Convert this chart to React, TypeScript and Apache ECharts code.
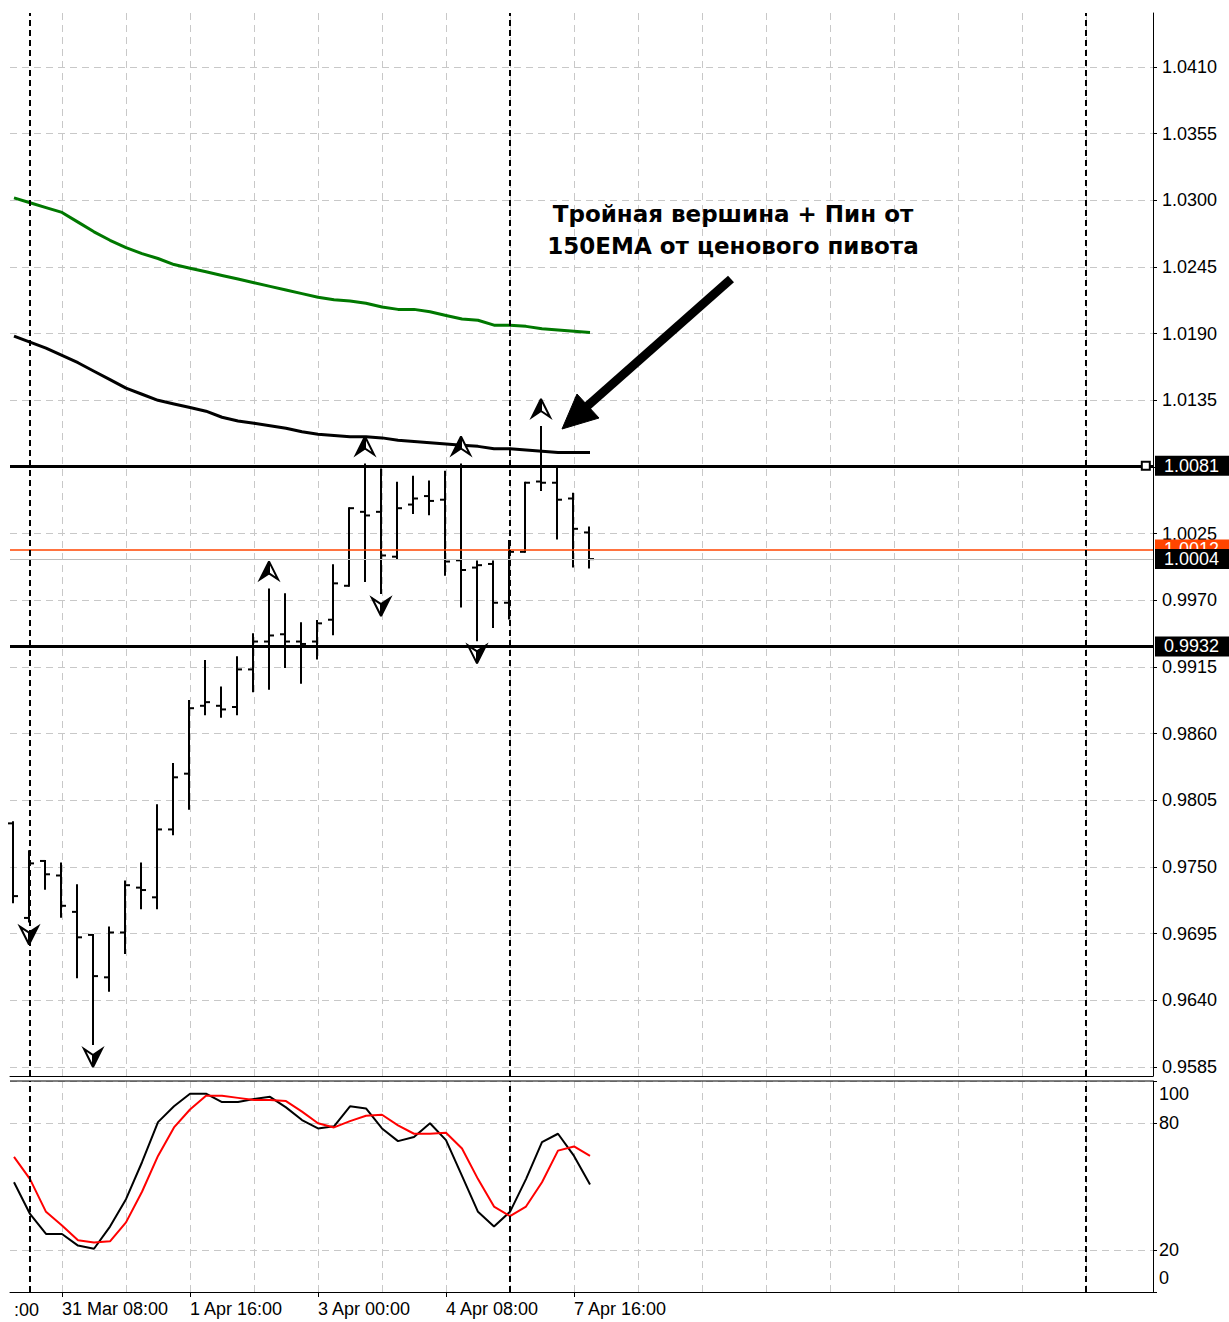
import React, { useEffect, useRef } from "react";
import * as echarts from "echarts";

// ---- data (H4 bars, index 0..36) ----
const opens = [0.9786, 0.9708, 0.9755, 0.9743, 0.9713, 0.9694, 0.9659, 0.9696, 0.9733, 0.9725, 0.9781, 0.9827, 0.9883, 0.9883, 0.9882, 0.9913, 0.9936, 0.9942, 0.9936, 0.9936, 0.9954, 0.9982, 1.0043, 1.0043, 1.0006, 1.0049, 1.0056, 1.0053, 1.0003, 0.9997, 1.0000, 0.9968, 1.0010, 1.0068, 1.0067, 1.0054, 1.0026];
const highs = [0.9787, 0.9763, 0.9755, 0.9753, 0.9735, 0.9694, 0.9700, 0.9738, 0.9753, 0.9801, 0.9835, 0.9887, 0.9920, 0.9898, 0.9923, 0.9942, 0.9979, 0.9975, 0.9951, 0.9953, 0.9999, 1.0046, 1.0082, 1.0078, 1.0067, 1.0072, 1.0068, 1.0076, 1.0082, 1.0002, 1.0002, 1.0019, 1.0067, 1.0113, 1.0080, 1.0058, 1.0030];
const lows = [0.9721, 0.9705, 0.9732, 0.9709, 0.9659, 0.9604, 0.9648, 0.9679, 0.9716, 0.9716, 0.9777, 0.9798, 0.9876, 0.9874, 0.9876, 0.9895, 0.9897, 0.9915, 0.9902, 0.9922, 0.9942, 0.9982, 0.9986, 0.9976, 1.0005, 1.0042, 1.0041, 0.9991, 0.9965, 0.9937, 0.9948, 0.9955, 1.0010, 1.0061, 1.0021, 0.9998, 0.9997];
const closes = [0.9726, 0.9753, 0.9744, 0.9718, 0.9692, 0.9660, 0.9696, 0.9735, 0.9731, 0.9781, 0.9824, 0.9881, 0.9886, 0.9880, 0.9913, 0.9936, 0.9941, 0.9936, 0.9934, 0.9951, 0.9984, 1.0046, 1.0040, 1.0007, 1.0046, 1.0054, 1.0052, 1.0002, 0.9995, 0.9999, 0.9968, 1.0010, 1.0067, 1.0067, 1.0053, 1.0029, 1.0004];

const emaGreen = [1.0302, 1.0298, 1.0294, 1.0290, 1.0282, 1.0274, 1.0267, 1.0261, 1.0256, 1.0252, 1.0247, 1.0244, 1.0241, 1.0238, 1.0235, 1.0232, 1.0229, 1.0226, 1.0223, 1.0220, 1.0218, 1.0217, 1.0215, 1.0212, 1.0210, 1.0210, 1.0208, 1.0205, 1.0202, 1.0201, 1.0197, 1.0197, 1.0196, 1.0194, 1.0193, 1.0192, 1.0191];
const emaBlack = [1.0188, 1.0183, 1.0178, 1.0172, 1.0166, 1.0159, 1.0152, 1.0145, 1.0140, 1.0135, 1.0132, 1.0129, 1.0126, 1.0121, 1.0118, 1.0116, 1.0114, 1.0112, 1.0109, 1.0107, 1.0106, 1.0105, 1.0105, 1.0104, 1.0102, 1.0101, 1.0100, 1.0099, 1.0098, 1.0097, 1.0095, 1.0095, 1.0094, 1.0093, 1.0092, 1.0092, 1.0092];

const stochMain = [52, 37, 27.5, 27.5, 22, 20.5, 31, 44, 61.5, 80.5, 88, 94, 94, 90, 90, 91.5, 92.5, 87.5, 81.5, 77.5, 78.5, 88, 87, 77.5, 71.5, 73.5, 80, 72, 55, 38, 31, 38, 53.5, 71, 75, 64.5, 51];
const stochSignal = [64, 53.5, 38, 31.5, 24.5, 23.5, 24, 33, 47.5, 64.5, 78, 86.5, 93, 93, 92, 91, 91, 90.5, 85.5, 80, 78, 81, 83.5, 84, 79, 75, 75, 75.5, 68, 53.5, 40.5, 36, 40.5, 52, 67, 69, 64.5];

const fractalUpBars = [16, 22, 28, 33];
const fractalDownBars = [1, 5, 23, 29];

const resistanceLevel = 1.0081;
const supportLevel = 0.9932;
const bidPrice = 1.0004;
const askPrice = 1.0012;

const priceTicks = [0.9585, 0.964, 0.9695, 0.975, 0.9805, 0.986, 0.9915, 0.997, 1.0025, 1.008, 1.0135, 1.019, 1.0245, 1.03, 1.0355, 1.041];
const stochTicks = [0, 20, 80, 100];
const timeTickBars = [3, 11, 19, 27, 35];
const timeTickLabels = ["31 Mar 08:00", "1 Apr 16:00", "3 Apr 00:00", "4 Apr 08:00", "7 Apr 16:00"];
const gridBars = [3, 7, 11, 15, 19, 23, 27, 31, 35, 39, 43, 47, 51, 55, 59, 63, 67];
const weekSeparatorBars = [1, 31, 67];

const annotationText = "Тройная вершина + Пин от\n150EMA от ценового пивота";

// ---- view settings ----
const X_MIN = -0.25;
const X_MAX = 71.1875;
const Y_MIN = 0.95776;
const Y_MAX = 1.04545;
const FONT = '"Liberation Sans", Arial, sans-serif';
const GRID_COLOR = "#c8c8c8";

export default function App() {
  const ref = useRef<HTMLDivElement>(null);

  useEffect(() => {
    if (!ref.current) return;
    const chart = echarts.init(ref.current, null, { renderer: "svg" });

    const ohlcData = opens.map((o, i) => [i, o, highs[i], lows[i], closes[i]]);
    const fractalData = [
      ...fractalUpBars.map((k) => [k, highs[k], 1]),
      ...fractalDownBars.map((k) => [k, lows[k], -1]),
    ];

    const splitDash = { show: true, lineStyle: { color: GRID_COLOR, type: [7, 5], width: 1 } };
    const priceLabel = (bg: string) => ({
      show: true,
      position: "end",
      distance: 2,
      formatter: (p: any) => Number(p.value).toFixed(4),
      backgroundColor: bg,
      color: "#fff",
      fontFamily: FONT,
      fontSize: 18,
      lineHeight: 19,
      padding: [1, 14, 0, 9],
    });

    chart.setOption({
      animation: false,
      grid: [
        { left: 10, right: 76, top: 13, height: 1063 },
        { left: 10, right: 76, top: 1081, height: 211 },
      ],
      xAxis: [
        {
          type: "value", gridIndex: 0, min: X_MIN, max: X_MAX, position: "bottom",
          axisLine: { show: true, onZero: false, lineStyle: { color: "#000", width: 1 } },
          axisTick: { show: false, customValues: gridBars },
          axisLabel: { show: false },
          splitLine: splitDash,
        },
        {
          type: "value", gridIndex: 1, min: X_MIN, max: X_MAX, position: "bottom",
          axisLine: { show: false, onZero: false },
          axisTick: { show: false, customValues: gridBars },
          axisLabel: { show: false },
          splitLine: splitDash,
        },
        {
          type: "value", gridIndex: 1, min: X_MIN, max: X_MAX, position: "bottom",
          axisLine: { show: true, onZero: false, lineStyle: { color: "#000", width: 1 } },
          axisTick: { show: true, customValues: timeTickBars, length: 5, lineStyle: { color: "#000" } },
          axisLabel: {
            show: true,
            customValues: timeTickBars,
            formatter: (v: number) => timeTickLabels[timeTickBars.indexOf(Math.round(v))] ?? "",
            align: "left",
            margin: 8,
            color: "#000",
            fontFamily: FONT,
            fontSize: 18,
          },
          splitLine: { show: false },
        },
      ],
      yAxis: [
        {
          type: "value", gridIndex: 0, position: "right", min: Y_MIN, max: Y_MAX, scale: true,
          axisLine: { show: true, onZero: false, lineStyle: { color: "#000", width: 1 } },
          axisTick: { show: true, customValues: priceTicks, length: 4, lineStyle: { color: "#000" } },
          axisLabel: {
            customValues: priceTicks,
            formatter: (v: number) => v.toFixed(4),
            margin: 9,
            color: "#000",
            fontFamily: FONT,
            fontSize: 18,
          },
          splitLine: splitDash,
        },
        {
          type: "value", gridIndex: 1, position: "right", min: 0, max: 100,
          axisLine: { show: true, onZero: false, lineStyle: { color: "#000", width: 1 } },
          axisTick: { show: true, customValues: stochTicks, length: 4, lineStyle: { color: "#000" } },
          axisLabel: {
            customValues: stochTicks,
            margin: 6,
            color: "#000",
            fontFamily: FONT,
            fontSize: 18,
            formatter: (v: number) => (v === 100 ? "{top|100}" : v === 0 ? "{bot|0}" : String(v)),
            rich: {
              top: { padding: [26, 0, 0, 0], fontSize: 18, fontFamily: FONT, color: "#000" },
              bot: { padding: [0, 0, 28, 0], fontSize: 18, fontFamily: FONT, color: "#000" },
            },
          },
          splitLine: splitDash,
        },
      ],
      series: [
        {
          name: "EMA slow",
          type: "line",
          xAxisIndex: 0, yAxisIndex: 0,
          data: emaGreen.map((v, i) => [i, v]),
          showSymbol: false,
          clip: false,
          lineStyle: { color: "#007800", width: 3 },
          z: 3,
        },
        {
          name: "EMA 150",
          type: "line",
          xAxisIndex: 0, yAxisIndex: 0,
          data: emaBlack.map((v, i) => [i, v]),
          showSymbol: false,
          clip: false,
          lineStyle: { color: "#000", width: 3 },
          z: 3,
          markLine: {
            silent: true,
            symbol: "none",
            precision: 4,
            data: [
              { yAxis: askPrice, lineStyle: { color: "#ff4500", width: 1.5, type: "solid" }, label: priceLabel("#ff4500") },
              { yAxis: bidPrice, lineStyle: { color: "#bdbdbd", width: 1, type: "solid" }, label: priceLabel("#000") },
              { yAxis: resistanceLevel, lineStyle: { color: "#000", width: 3, type: "solid" }, label: priceLabel("#000") },
              { yAxis: supportLevel, lineStyle: { color: "#000", width: 3, type: "solid" }, label: priceLabel("#000") },
              ...weekSeparatorBars.map((k) => ({
                xAxis: k,
                lineStyle: { color: "#000", width: 2, type: [6, 4] },
                label: { show: false },
              })),
            ],
          },
          markPoint: {
            silent: true,
            data: [
              {
                coord: [X_MAX - 0.45, resistanceLevel],
                symbol: "rect",
                symbolSize: 8,
                itemStyle: { color: "#fff", borderColor: "#000", borderWidth: 2 },
                label: { show: false },
              },
            ],
          },
        },
        {
          name: "Bars",
          type: "custom",
          xAxisIndex: 0, yAxisIndex: 0,
          data: ohlcData,
          encode: { x: 0, y: [1, 2, 3, 4] },
          z: 4,
          renderItem: (params: any, api: any) => {
            const k = api.value(0);
            const pO = api.coord([k, api.value(1)]);
            const pH = api.coord([k, api.value(2)]);
            const pL = api.coord([k, api.value(3)]);
            const pC = api.coord([k, api.value(4)]);
            const x = Math.round(pO[0]) - 1;
            const st = { stroke: "#000", lineWidth: 2 };
            return {
              type: "group",
              children: [
                { type: "line", shape: { x1: x, y1: pH[1] - 1, x2: x, y2: pL[1] + 1 }, style: st },
                { type: "line", shape: { x1: x - 5, y1: pO[1], x2: x, y2: pO[1] }, style: st },
                { type: "line", shape: { x1: x, y1: pC[1], x2: x + 5, y2: pC[1] }, style: st },
              ],
            };
          },
        },
        {
          name: "Fractals",
          type: "custom",
          xAxisIndex: 0, yAxisIndex: 0,
          data: fractalData,
          encode: { x: 0, y: 1 },
          z: 6,
          renderItem: (params: any, api: any) => {
            const p = api.coord([api.value(0), api.value(1)]);
            const dir = api.value(2);
            const cx = Math.round(p[0]) - 1;
            if (dir > 0) {
              const cy = p[1] - 19;
              return {
                type: "group",
                children: [
                  { type: "polygon", shape: { points: [[cx, cy - 9], [cx + 9, cy + 9], [cx, cy + 3]] }, style: { fill: "#fff", stroke: "#000", lineWidth: 2 } },
                  { type: "polygon", shape: { points: [[cx, cy - 9], [cx, cy + 3], [cx - 9, cy + 9]] }, style: { fill: "#000", stroke: "#000", lineWidth: 2 } },
                ],
              };
            }
            const cy = p[1] + 14;
            return {
              type: "group",
              children: [
                { type: "polygon", shape: { points: [[cx, cy + 9], [cx - 9, cy - 9], [cx, cy - 3]] }, style: { fill: "#fff", stroke: "#000", lineWidth: 2 } },
                { type: "polygon", shape: { points: [[cx, cy + 9], [cx, cy - 3], [cx + 9, cy - 9]] }, style: { fill: "#000", stroke: "#000", lineWidth: 2 } },
              ],
            };
          },
        },
        {
          name: "%K",
          type: "line",
          xAxisIndex: 1, yAxisIndex: 1,
          data: stochMain.map((v, i) => [i, v]),
          showSymbol: false,
          lineStyle: { color: "#000", width: 2 },
          markLine: {
            silent: true,
            symbol: "none",
            data: weekSeparatorBars.map((k) => ({
              xAxis: k,
              lineStyle: { color: "#000", width: 2, type: [6, 4] },
              label: { show: false },
            })),
          },
        },
        {
          name: "%D",
          type: "line",
          xAxisIndex: 1, yAxisIndex: 1,
          data: stochSignal.map((v, i) => [i, v]),
          showSymbol: false,
          lineStyle: { color: "#ff0000", width: 2 },
        },
      ],
      graphic: [
        { type: "line", z: 50, shape: { x1: 10, y1: 1081, x2: 1153, y2: 1081 }, style: { stroke: "#000", lineWidth: 1 } },
        {
          type: "text", z: 50, x: 14, y: 1310,
          style: { text: ":00", font: '18px "Liberation Sans", Arial, sans-serif', verticalAlign: "middle", fill: "#000" },
        },
        {
          type: "text", z: 60, x: 733, y: 230,
          style: {
            text: annotationText,
            font: 'bold 23px "DejaVu Sans", sans-serif',
            align: "center",
            verticalAlign: "middle",
            lineHeight: 32,
            fill: "#000",
          },
        },
        { type: "line", z: 60, shape: { x1: 731, y1: 279, x2: 584, y2: 409 }, style: { stroke: "#000", lineWidth: 9 } },
        { type: "polygon", z: 60, shape: { points: [[562, 429], [577, 394], [599, 418]] }, style: { fill: "#000", stroke: "#000", lineWidth: 1 } },
      ],
    });

    return () => chart.dispose();
  }, []);

  return (
    <div
      ref={ref}
      style={{ position: "absolute", left: 0, top: 0, width: 1229, height: 1322, background: "#fff" }}
    />
  );
}
